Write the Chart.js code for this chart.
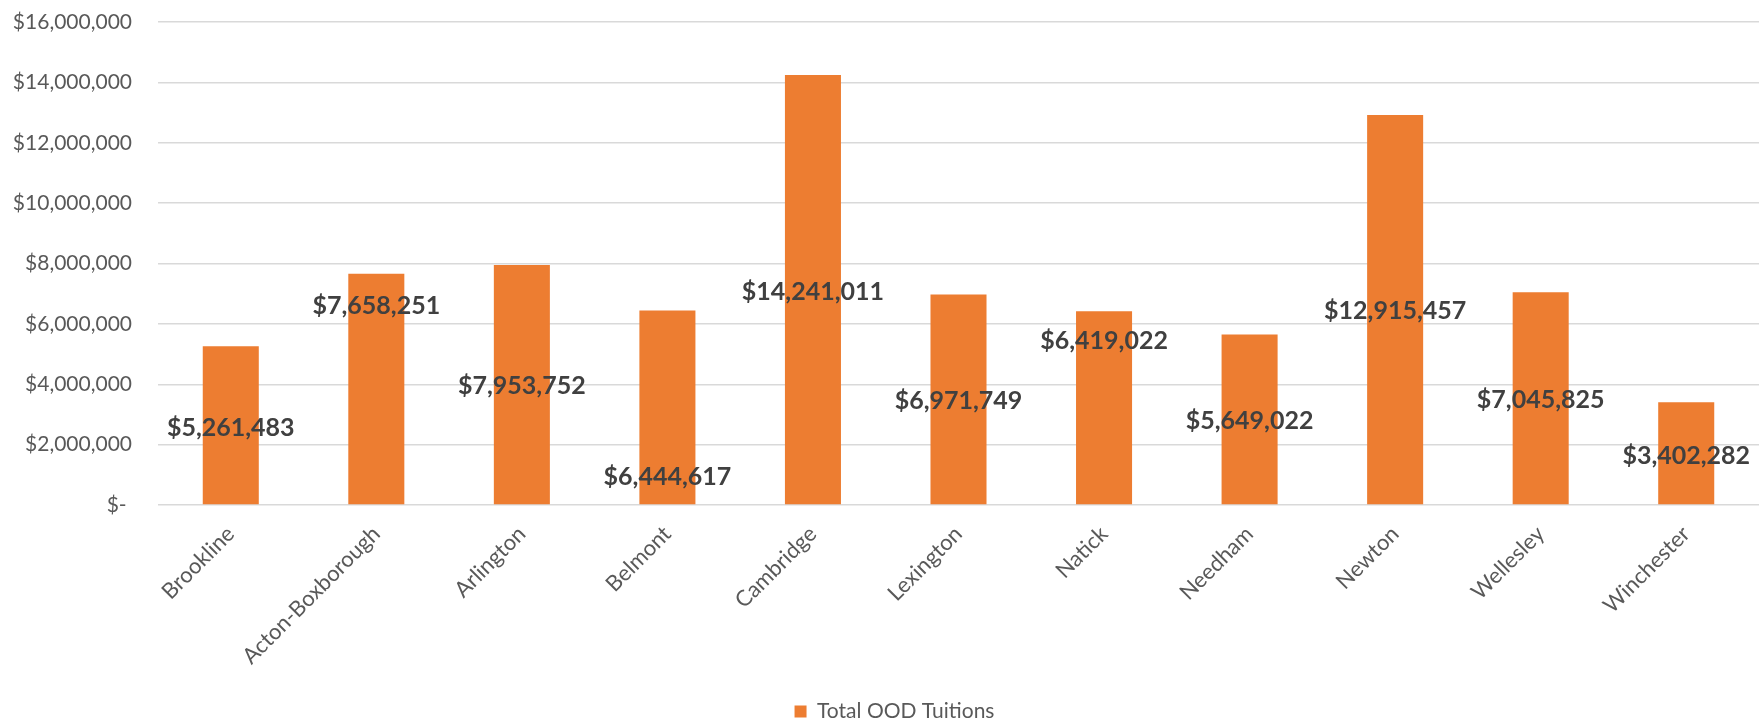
<!DOCTYPE html>
<html>
<head>
<meta charset="utf-8">
<title>Total OOD Tuitions</title>
<script src="https://cdn.jsdelivr.net/npm/chart.js@4.4.1/dist/chart.umd.min.js"></script>
<style>
    html, body { margin: 0; padding: 0; background: #ffffff; }
    #wrap { width: 1759px; height: 722px; position: relative; }
</style>
</head>
<body>
<div id="wrap"><canvas id="tuitionChart"></canvas></div>
<script>
const districts = ['Brookline', 'Acton-Boxborough', 'Arlington', 'Belmont', 'Cambridge', 'Lexington',
    'Natick', 'Needham', 'Newton', 'Wellesley', 'Winchester'];
const tuitions = [5261483, 7658251, 7953752, 6444617, 14241011, 6971749,
    6419022, 5649022, 12915457, 7045825, 3402282];
// where each data label sits on the value axis (labels were dragged around in the original)
const labelAt = [2560000, 6610000, 3940000, 930000, 7050000, 3450000,
    5420000, 2780000, 6420000, 3490000, 1630000];
const yTicks = [0, 2000000, 4000000, 6000000, 8000000, 10000000, 12000000, 14000000, 16000000];

const money = v => v === 0 ? '$- ' : '$' + v.toLocaleString('en-US');

// Draw the value labels at the positions given in labelAt
const valueLabels = {
    id: 'valueLabels',
    afterLayout(chart) {
        // legend is centred under the plot area, not the whole canvas
        if (chart.legend) {
            chart.legend.left += 15;
            chart.legend.right += 15;
        }
    },
    afterDatasetsDraw(chart) {
        const ctx = chart.ctx;
        const meta = chart.getDatasetMeta(0);
        const yScale = chart.scales.y;
        ctx.save();
        ctx.font = 'bold 25px Lato';
        ctx.fillStyle = '#404040';
        ctx.textAlign = 'center';
        ctx.textBaseline = 'middle';
        meta.data.forEach((bar, i) => {
            ctx.fillText(money(tuitions[i]), bar.x, yScale.getPixelForValue(labelAt[i]));
        });
        ctx.restore();
    }
};

const ctx = document.getElementById('tuitionChart').getContext('2d');
new Chart(ctx, {
    type: 'bar',
    data: {
        labels: districts,
        datasets: [
            {
                label: 'Total OOD Tuitions',
                data: tuitions,
                backgroundColor: '#ED7D31',
                borderWidth: 0,
                categoryPercentage: 1,
                barPercentage: 0.385
            }
        ]
    },
    options: {
        responsive: true,
        maintainAspectRatio: false,
        animation: false,
        layout: {
            padding: { top: 22, left: 0, right: 0, bottom: -10 }
        },
        plugins: {
            legend: {
                position: 'bottom',
                labels: {
                    color: '#595959',
                    font: { family: 'Lato', size: 21 },
                    boxWidth: 12,
                    boxHeight: 12,
                    padding: 10
                }
            },
            tooltip: { enabled: false }
        },
        scales: {
            x: {
                grid: { display: false },
                border: { display: false },
                ticks: {
                    color: '#595959',
                    font: { family: 'Lato', size: 22 },
                    minRotation: 45,
                    maxRotation: 45,
                    padding: 8
                },
                afterFit: scale => { scale.height = 186; }
            },
            y: {
                min: 0,
                max: 16000000,
                afterBuildTicks: scale => {
                    scale.ticks = yTicks.map(v => ({ value: v }));
                },
                grid: {
                    color: '#d9d9d9',
                    lineWidth: 1.5,
                    drawTicks: true,
                    tickLength: 24,
                    tickColor: 'rgba(0, 0, 0, 0)'
                },
                border: { display: false },
                ticks: {
                    color: '#595959',
                    font: { family: 'Lato', size: 21 },
                    padding: 2,
                    callback: value => money(value)
                },
                afterFit: scale => { scale.width = 158; }
            }
        }
    },
    plugins: [valueLabels]
});
</script>
</body>
</html>
